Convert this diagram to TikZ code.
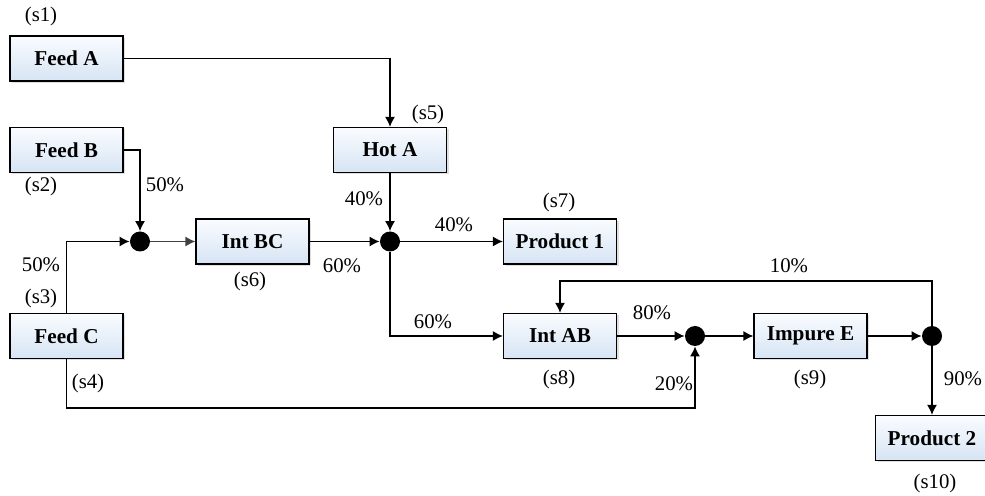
\documentclass[tikz,border=0pt]{standalone}
\usepackage{fontspec}
\setmainfont{Liberation Serif}
\usetikzlibrary{arrows.meta,shadows}

\definecolor{boxtop}{RGB}{250,252,255}
\definecolor{boxbottom}{RGB}{214,228,244}

\begin{document}
\begin{tikzpicture}[
    x=0.5pt, y=-0.5pt,
    >={Latex[length=5pt,width=5pt]},
    every node/.style={font=\fontsize{10.4}{12}\selectfont},
    unit/.style={draw, line width=0.6pt, top color=boxtop, bottom color=boxbottom,
        minimum width=56.5pt, minimum height=22.5pt, inner sep=0pt, font=\fontsize{10.6}{12}\selectfont\bfseries,
        drop shadow={shadow xshift=1pt, shadow yshift=-1pt, opacity=0.25, fill=gray}},
    junc/.style={circle, fill=black, minimum size=10pt, inner sep=0pt},
    flow/.style={->, line width=0.7pt}
]
    \useasboundingbox (0,0) rectangle (985,496);

    \node[unit] (feedA) at (66.5,58.5) {Feed A};
    \node[unit] (feedB) at (66.5,150) {Feed B};
    \node[unit] (feedC) at (66.5,336) {Feed C};
    \node[unit] (hotA) at (390,150) {Hot A};
    \node[unit] (intBC) at (252.5,241.5) {Int BC};
    \node[unit] (prodA) at (560,241.5) {Product 1};
    \node[unit] (intAB) at (560,336) {Int AB};
    \node[unit] (impE) at (810.5,336) {Impure E};
    \node[unit] (prodB) at (932,438) {Product 2};

    \node[junc] (j1) at (140,241.5) {};
    \node[junc] (j2) at (390,241.5) {};
    \node[junc] (j3) at (695,336) {};
    \node[junc] (j4) at (932,336) {};

    \coordinate (low) at (66.5,408);
    \coordinate (back) at (932,281);

    \draw[flow] (feedA.east) -| (hotA.north);
    \draw[flow] (feedB.east) -| (j1.north);
    \draw[flow] (feedC.north) |- (j1.west);
    \draw[flow, black!75] (j1.east) -- (intBC.west);
    \draw[flow] (intBC.east) -- (j2.west);
    \draw[flow] (hotA.south) -- (j2.north);
    \draw[flow] (j2.east) -- (prodA.west);
    \draw[flow] (j2.south) |- (intAB.west);
    \draw[flow] (intAB.east) -- (j3.west);
    \draw[flow] (feedC.south) -- (low) -| (j3.south);
    \draw[flow] (j3.east) -- (impE.west);
    \draw[flow] (impE.east) -- (j4.west);
    \draw[flow] (j4.south) -- (prodB.north);
    \draw[flow] (j4.north) -- (back) -| (intAB.north);

    \node (s1) at (41,17) {(s1)};
    \node (s2) at (41,187) {(s2)};
    \node (s3) at (41,298) {(s3)};
    \node (s4) at (88,383) {(s4)};
    \node (s5) at (428,115) {(s5)};
    \node (s6) at (250,281) {(s6)};
    \node (s7) at (559,203) {(s7)};
    \node (s8) at (559,379) {(s8)};
    \node (s9) at (810,379) {(s9)};
    \node (s10) at (935,483) {(s10)};

    \node (pB) at (165,185) {50\%};
    \node (pC) at (41,265) {50\%};
    \node (pH) at (364,199) {40\%};
    \node (pBC) at (342,266) {60\%};
    \node (pP1) at (454,225) {40\%};
    \node (pAB) at (433,322) {60\%};
    \node (pJ3a) at (652,313) {80\%};
    \node (pJ3b) at (674,384) {20\%};
    \node (pRec) at (789,266) {10\%};
    \node (pP2) at (963,379) {90\%};
\end{tikzpicture}
\end{document}
